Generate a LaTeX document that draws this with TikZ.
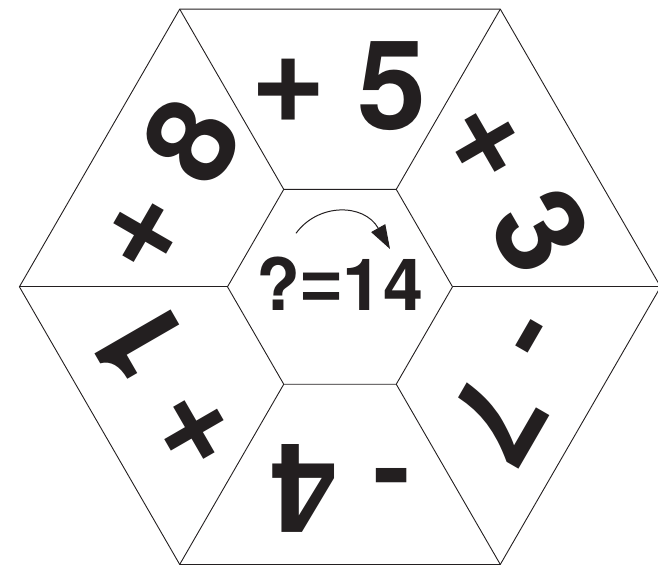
\documentclass[tikz,border=0pt]{standalone}
\usepackage{fontspec}
\setmainfont{TeX Gyre Heros}
\newfontfamily\symf{Liberation Sans}
\usetikzlibrary{arrows.meta}
\definecolor{ink}{RGB}{35,31,32}
\newcommand{\sy}[1]{{\symf\fontsize{120}{120}\selectfont #1}}
\begin{document}
\begin{tikzpicture}[x=1pt,y=1pt,
  edge/.style={draw=ink, line width=0.9pt, line join=miter},
  lab/.style={text=ink, font=\bfseries\fontsize{124}{124}\selectfont, anchor=base, inner sep=0pt},
  eq/.style={text=ink, font=\bfseries\fontsize{72}{72}\selectfont, anchor=base, inner sep=0pt}]
\useasboundingbox (0,0) rectangle (658,566);
\coordinate (C) at (340,279.2);
\foreach \i in {0,...,5} {
  \path (C) ++(60*\i:320.6) coordinate (O\i);
  \path (C) ++(60*\i:112.5) coordinate (I\i);
}
\draw[edge] (O0) -- (O1) -- (O2) -- (O3) -- (O4) -- (O5) -- cycle;
\draw[edge] (I0) -- (I1) -- (I2) -- (I3) -- (I4) -- (I5) -- cycle;
\foreach \i in {0,...,5} { \draw[edge] (I\i) -- (O\i); }
\path (C) ++(90:157.7) node[lab, rotate=0] (l1) {\sy{+} 5};
\path (C) ++(30:157.7) node[lab, rotate=-60] (l2) {\sy{+} 3};
\path (C) ++(-30:157.7) node[lab, rotate=-120] (l3) {\sy{-} 7};
\path (C) ++(-90:157.7) node[lab, rotate=180] (l4) {\sy{-} 4};
\path (C) ++(-150:157.7) node[lab, rotate=120] (l5) {\sy{+} 1};
\path (C) ++(150:157.7) node[lab, rotate=60] (l6) {\sy{+} 8};
\node[eq] (q) at (340,256) {?{\symf =}14};
\coordinate (as) at (296,332.7);
\coordinate (at) at (390,317);
\draw[edge, line width=1pt, -{Triangle[length=24pt,width=16pt]}] (as) .. controls (318,363) and (364,363) .. (at);
\end{tikzpicture}
\end{document}
